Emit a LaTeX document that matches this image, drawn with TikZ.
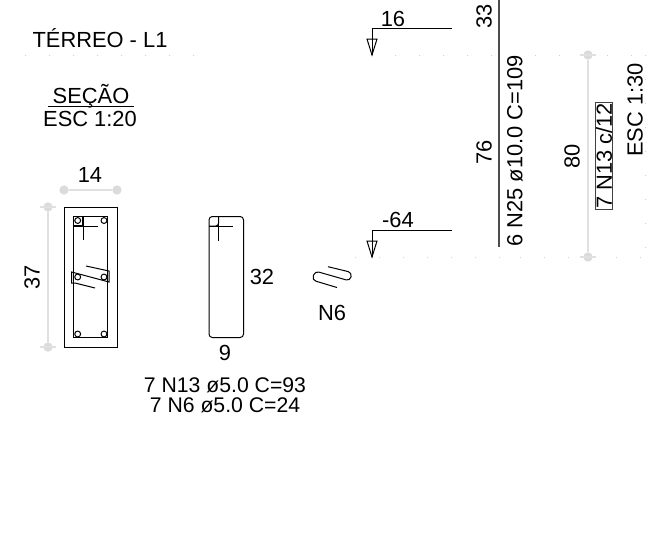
\documentclass[tikz,border=0pt]{standalone}
\usepackage{fontspec}
\setmainfont{Liberation Sans}
\usetikzlibrary{positioning}

\begin{document}
\begin{tikzpicture}[x=0.75pt,y=-0.75pt,line width=0.75pt,
                    every node/.style={font=\fontsize{16.4}{18}\selectfont,inner sep=0pt}]
  \tikzstyle{dimline}=[draw=black!12,line width=1.1pt]
  \tikzstyle{dimdot}=[circle,fill=black!14,minimum size=7pt]
  \tikzstyle{gridline}=[draw=black!18,line width=0.5pt,dash pattern=on 1pt off 17pt]
  \tikzstyle{level}=[draw=black,line width=0.75pt]
  \tikzstyle{rebar}=[circle,draw=black,fill=white,line width=0.75pt,minimum size=4.4pt]
  \tikzstyle{listing}=[font=\fontsize{15.9}{18}\selectfont]

  \useasboundingbox (0,0) rectangle (654,540);

  % faint grid
  \draw[gridline] (25,55) -- (210,55);
  \draw[gridline] (395,55) -- (500,55);
  \draw[gridline] (535,55) -- (645,55);
  \draw[gridline] (355,257) -- (500,257);
  \draw[gridline] (520,257) -- (645,257);
  \draw[gridline] (645,55) -- (645,257);

  % titles
  \node (title) at (100,38) {TÉRREO - L1};
  \node (secao) at (91,96) {SEÇÃO};
  \node (esc20) at (90,119) {ESC 1:20};
  \coordinate (secaoa) at (48,106);
  \coordinate (secaob) at (134,106);
  \draw[black] (secaoa) -- (secaob);

  % section
  \node[dimdot] (d14a) at (64,190) {};
  \node[dimdot] (d14b) at (117,190) {};
  \draw[dimline] (d14a) -- (d14b);
  \node (l14) at (90,175) {14};
  \node[dimdot] (d37a) at (48,207) {};
  \node[dimdot] (d37b) at (48,347) {};
  \draw[dimline] (d37a) -- (d37b);
  \node[rotate=90] (l37) at (32,277) {37};

  \draw (64,207) rectangle (117,347);
  \draw (73.7,216.7) rectangle (107.7,337.7);
  \draw[line width=1pt] (73.7,226) -- (83,226) -- (83,216.7);
  \draw (73.7,226) -- (98,226) (83,216.7) -- (83,240);
  \draw (86,266) -- (109,271) -- (109,282) -- (71.7,272) -- (71.7,283) -- (75,283) -- (95,288);

  \node[rebar] (r1) at (77.7,220.5) {};
  \node[rebar] (r2) at (104,220.5) {};
  \node[rebar] (r3) at (77.7,277) {};
  \node[rebar] (r4) at (104,277) {};
  \node[rebar] (r5) at (77.7,334) {};
  \node[rebar] (r6) at (104,334) {};

  % stirrup
  \draw[rounded corners=2.5pt] (209,216.5) rectangle (243.5,337.5);
  \draw[rounded corners=2pt] (209,226) -- (218.5,226) -- (218.5,216.5);
  \draw (209,226) -- (233,226) (218.5,216.5) -- (218.5,240.5);
  \node (l32) at (262,277) {32};
  \node (l9) at (225,353) {9};
  \node[listing] (lbl13) at (225,385) {7 N13 ø5.0 C=93};
  \node[listing] (lbl6) at (225,405) {7 N6 ø5.0 C=24};

  % tie
  \draw[rounded corners=3pt] (328,266.7) -- (352,272.5) -- (350,281) -- (315,271) -- (312,280) -- (337,287.5);
  \node (n6) at (332,313) {N6};

  % levels
  \coordinate (lv16a) at (452,28.5);
  \coordinate (lv16b) at (372,28.5);
  \coordinate (lv16c) at (372,55);
  \draw[level] (lv16a) -- (lv16b) -- (lv16c);
  \draw[level] (367,39) -- (377,39) -- (372,55) -- cycle;
  \node (l16) at (393,19) {16};
  \coordinate (lv64a) at (452,230);
  \coordinate (lv64b) at (372,230);
  \coordinate (lv64c) at (372,257);
  \draw[level] (lv64a) -- (lv64b) -- (lv64c);
  \draw[level] (367,241) -- (377,241) -- (372,257) -- cycle;
  \node (l64) at (398,220) {-64};

  % bar
  \coordinate (bara) at (499,0);
  \coordinate (barb) at (499,247);
  \draw[draw=black!70,line width=0.9pt] (bara) -- (barb);
  \node[rotate=90] (l33) at (484,16) {33};
  \node[rotate=90] (l76) at (484,152) {76};
  \node[rotate=90] (lbar) at (515,151) {6 N25 ø10.0 C=109};

  % spacing
  \node[dimdot] (d80a) at (588,55) {};
  \node[dimdot] (d80b) at (588,257) {};
  \draw[dimline] (d80a) -- (d80b);
  \node[rotate=90] (l80) at (572,156) {80};
  \node[rotate=90,draw=black!75,line width=0.8pt,inner sep=0.3pt] (n13) at (604,156) {7 N13 c/12};
  \node[rotate=90] (esc30) at (635,110) {ESC 1:30};

  % ticks on the dimension ends
  \foreach \d in {d37a,d37b,d80a,d80b}
    \draw[dimline] ([xshift=-6pt]\d.center) -- ([xshift=6pt]\d.center);
\end{tikzpicture}
\end{document}
